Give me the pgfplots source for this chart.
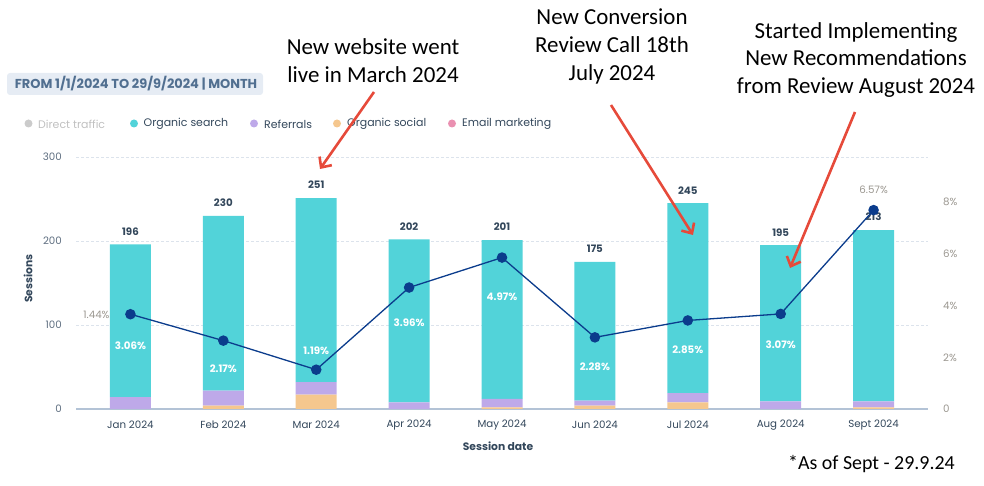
\documentclass[border=0pt]{standalone}
\usepackage{pgfplots}
\pgfplotsset{compat=1.18}
\usepackage{pgfplotstable}
\usepackage{fontspec}
\setmainfont{Poppins}
\newfontfamily\annotfont{Carlito}
\usetikzlibrary{arrows.meta}

\definecolor{search}{HTML}{52D3D9}
\definecolor{referral}{HTML}{BEA9E9}
\definecolor{social}{HTML}{F5C78E}
\definecolor{email}{HTML}{EA90B1}
\definecolor{direct}{HTML}{CBCBCB}
\definecolor{rateline}{HTML}{0B3C8C}
\definecolor{ink}{HTML}{33475B}
\definecolor{tickgray}{HTML}{5E6E80}
\definecolor{rightgray}{HTML}{9A968F}
\definecolor{gridc}{HTML}{DCE3EC}
\definecolor{basec}{HTML}{B3C3D6}
\definecolor{headfill}{HTML}{E6ECF4}
\definecolor{headtext}{HTML}{516F90}
\definecolor{arrowred}{HTML}{E64A3A}

% sessions by source, monthly, plus conversion rate
\pgfplotstableread{
idx social referrals email search total rate
0   0      14        0     182    196   3.06
1   4      18        0     208    230   2.17
2   17     15        0     219    251   1.19
3   0      8         0     194    202   3.96
4   2      10        0     189    201   4.97
5   4      6         0     165    175   2.28
6   8      11        0     226    245   2.85
7   0      9         0     186    195   3.07
8   2      7         0     204    213   6.57
}\sessions

% positions of the rate labels printed inside the bars
\pgfplotstableread{
idx ly    txt
0   1.989 3.06
1   1.214 2.17
2   1.821 1.19
3   2.765 3.96
4   3.641 4.97
5   1.281 2.28
6   1.854 2.85
7   2.023 3.07
}\ratelabels

\pgfplotsset{
  chartframe/.style={
    at={(76bp,77bp)}, anchor=south west,
    scale only axis, width=852bp, height=252bp,
    xmin=-0.586, xmax=8.586,
    axis line style={draw=none},
    major tick length=0pt,
    clip=false,
  },
}

\begin{document}
\begin{tikzpicture}[x=1bp,y=1bp]

% header chip
\fill[headfill, rounded corners=3bp] (7,391) rectangle (263,413);
\node[text=headtext, font=\bfseries\fontsize{13}{15}\selectfont] at (136,402.5) {FROM 1/1/2024 TO 29/9/2024 | MONTH};

% legend
\begin{scope}[font=\fontsize{11}{13}\selectfont]
\fill[direct] (28.5,362.5) circle (4bp);
\node[anchor=west, inner sep=0, text=direct!85!gray] at (38,362) {Direct traffic};
\fill[search] (134,362.5) circle (4bp);
\node[anchor=west, inner sep=0, text=ink] at (143.5,362) {Organic search};
\fill[referral] (254,362.5) circle (4bp);
\node[anchor=west, inner sep=0, text=ink] at (264,362) {Referrals};
\fill[social] (337,362.5) circle (4bp);
\node[anchor=west, inner sep=0, text=ink] at (347,362) {Organic social};
\fill[email] (452,362.5) circle (4bp);
\node[anchor=west, inner sep=0, text=ink] at (462,362) {Email marketing};
\end{scope}

% stacked sessions
\begin{axis}[
  chartframe,
  ymin=0, ymax=300,
  ybar stacked, bar width=41bp,
  xtick={0,...,8},
  xticklabels={Jan 2024,Feb 2024,Mar 2024,Apr 2024,May 2024,Jun 2024,Jul 2024,Aug 2024,Sept 2024},
  xticklabel style={font=\fontsize{10.3}{12}\selectfont, text=ink, anchor=center, yshift=-16bp, inner sep=0pt},
  ytick={0,100,200,300},
  yticklabel style={font=\fontsize{10.3}{12}\selectfont, text=tickgray, anchor=east, xshift=-14bp, inner sep=0pt},
  /pgf/number format/assume math mode=true,
  ymajorgrids, grid style={dash pattern=on 3bp off 2bp, color=gridc, line width=0.7bp},
  xlabel={Session date}, ylabel={Sessions},
  xlabel style={font=\bfseries\fontsize{10.8}{12}\selectfont, text=ink, at={(rel axis cs:0.4953,0)}, anchor=center, yshift=-37bp},
  ylabel style={font=\bfseries\fontsize{10.8}{12}\selectfont, text=ink, at={(rel axis cs:0,0.5183)}, anchor=center, yshift=48bp},
]
\addplot[fill=social, draw=none] table[x=idx, y=social]{\sessions};
\addplot[fill=referral, draw=none] table[x=idx, y=referrals]{\sessions};
\addplot[fill=email, draw=none] table[x=idx, y=email]{\sessions};
\addplot[fill=search, draw=none] table[x=idx, y=search]{\sessions};
\draw[basec, line width=1.6bp] (rel axis cs:0,0) -- (rel axis cs:1,0);
\end{axis}

% totals above the bars
\begin{axis}[
  chartframe,
  ymin=0, ymax=300,
  xtick=\empty, ytick=\empty,
]
\addplot[draw=none, mark=none,
  point meta=explicit symbolic,
  nodes near coords,
  nodes near coords style={font=\bfseries\fontsize{10.3}{12}\selectfont, text=ink, anchor=center, yshift=13bp, inner sep=0pt},
] table[x=idx, y=total, meta=total]{\sessions};
\end{axis}

% conversion rate line on the right scale
\begin{axis}[
  chartframe,
  ymin=-0.135, ymax=8.361,
  xtick=\empty,
  ytick={-0.135,1.608,3.351,5.094,6.837},
  yticklabels={0,2\%,4\%,6\%,8\%},
  yticklabel pos=right,
  yticklabel style={font=\fontsize{10.3}{12}\selectfont, text=rightgray, anchor=west, xshift=15bp, inner sep=0pt},
]
\addplot[draw=none, mark=none,
  point meta=explicit symbolic,
  nodes near coords={\pgfplotspointmeta\%},
  nodes near coords style={font=\bfseries\fontsize{10.3}{12}\selectfont, text=white, anchor=center, inner sep=0pt},
] table[x=idx, y=ly, meta=txt]{\ratelabels};
\addplot[color=rateline, line width=1.3bp, mark=*, mark size=4.6bp,
  mark options={fill=rateline, draw=rateline}] table[x=idx, y=rate]{\sessions};
\node[font=\fontsize{10.3}{12}\selectfont, text=rightgray] at (axis cs:-0.366,3.05) {1.44\%};
\node[font=\fontsize{10.3}{12}\selectfont, text=rightgray] at (axis cs:8,7.249) {6.57\%};
\end{axis}

% annotations
\begin{scope}[font=\annotfont\fontsize{23}{28}\selectfont]
\node[align=center] at (373,425.5) {New website went\\live in March 2024};
\node[align=center] at (612,439.5) {New Conversion\\Review Call 18th\\July 2024};
\node[align=center] at (856,426) {Started Implementing\\New Recommendations\\from Review August 2024};
\end{scope}
\begin{scope}[arrowred, line width=2.6bp, -{Straight Barb[length=8bp, width=15bp, line width=2.6bp]}]
\draw (374,394) -- (320,317);
\draw (611,381) -- (693,251);
\draw (855,374) -- (790,218);
\end{scope}
\node[anchor=east, inner sep=0pt, font=\annotfont\fontsize{20}{24}\selectfont] at (955,22) {*As of Sept - 29.9.24};

\pgfresetboundingbox
\path[use as bounding box] (0,0) rectangle (984,486);
\end{tikzpicture}
\end{document}
